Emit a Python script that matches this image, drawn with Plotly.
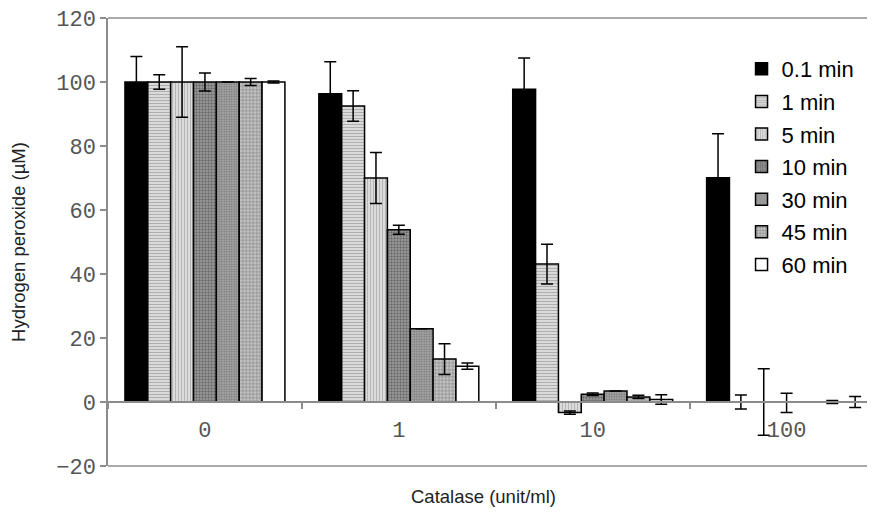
import plotly.graph_objects as go

categories = ["0", "1", "10", "100"]
series_names = ["0.1 min", "1 min", "5 min", "10 min", "30 min", "45 min", "60 min"]

v_01 = [100, 96.3, 97.7, 70.1]
v_1 = [100, 92.5, 43.1, 0]
v_5 = [100, 70.0, -3.3, 0]
v_10 = [100, 53.8, 2.4, -0.3]
v_30 = [100, 22.9, 3.4, 0]
v_45 = [100, 13.4, 1.6, 0]
v_60 = [100, 11.2, 0.8, 0]

e_01 = [8.0, 10.0, 9.8, 13.7]
e_1 = [2.3, 4.8, 6.2, 2.2]
e_5 = [11.0, 8.0, 0.5, 10.4]
e_10 = [2.8, 1.4, 0.4, 3.0]
e_30 = [None, None, None, None]
e_45 = [1.1, 4.8, 0.5, 0.5]
e_60 = [0.3, 1.0, 1.5, 1.7]

values = [v_01, v_1, v_5, v_10, v_30, v_45, v_60]
errors = [e_01, e_1, e_5, e_10, e_30, e_45, e_60]

styles = [
    dict(color="#000000", pattern=dict(shape="")),
    dict(color="#e2e2e2", pattern=dict(shape="-", fgcolor="#7a7a7a", size=3, solidity=0.45)),
    dict(color="#e2e2e2", pattern=dict(shape="|", fgcolor="#8a8a8a", size=3, solidity=0.45)),
    dict(color="#a0a0a0", pattern=dict(shape=".", fgcolor="#353535", size=3, solidity=0.5)),
    dict(color="#b0b0b0", pattern=dict(shape=".", fgcolor="#454545", size=2.5, solidity=0.5)),
    dict(color="#c4c4c4", pattern=dict(shape="+", fgcolor="#454545", size=3.5, solidity=0.35)),
    dict(color="#ffffff", pattern=dict(shape="")),
]

fig = go.Figure()
for name, vals, errs, st in zip(series_names, values, errors, styles):
    lw = [1.5 if abs(v) > 0.5 else 0 for v in vals]
    fig.add_trace(go.Bar(
        name=name, x=categories, y=vals, legendgroup=name,
        marker=dict(color=st["color"], pattern=st["pattern"],
                    line=dict(color="#000000", width=lw)),
        error_y=dict(type="data", array=errs, visible=True,
                     color="#000000", thickness=1.5, width=6),
    ))

axis_gray = "#8c8c8c"
mono = dict(family="Liberation Mono, Courier New, monospace", size=22, color="#555555")

fig.update_layout(
    width=867, height=506,
    margin=dict(l=99.5, r=0, t=10, b=48, autoexpand=False),
    paper_bgcolor="white", plot_bgcolor="white",
    barmode="group", bargap=0.175, bargroupgap=0,
    showlegend=True,
    legend=dict(x=0.826, y=0.933, xanchor="left", yanchor="top",
                tracegroupgap=1,
                font=dict(family="Liberation Sans, Arial, sans-serif", size=22, color="#000000"),
                bgcolor="rgba(0,0,0,0)"),
    xaxis=dict(type="category", range=[-0.5, 3.456],
               anchor="free", position=20 / 140, automargin=False,
               showline=True, linecolor=axis_gray, linewidth=1.5,
               ticks="outside", ticklen=6, tickwidth=1.5, tickcolor=axis_gray,
               tickson="boundaries", tickfont=mono, ticklabelstandoff=8,
               ticklabeloverflow="allow",
               showgrid=False, zeroline=False),
    yaxis=dict(range=[-20, 120], dtick=20, tick0=0, automargin=False,
               showline=True, linecolor=axis_gray, linewidth=1.5,
               ticks="outside", ticklen=6, tickwidth=1.5, tickcolor=axis_gray,
               tickfont=mono, ticklabeloverflow="allow",
               showgrid=False, zeroline=False,
               title=dict(text="Hydrogen peroxide (µM)", standoff=26,
                          font=dict(family="Liberation Sans, Arial, sans-serif", size=18.5, color="#222222"))),
    font=dict(family="Liberation Sans, Arial, sans-serif"),
    shapes=[
        dict(type="line", xref="paper", yref="paper", x0=0, x1=1, y0=1, y1=1,
             line=dict(color=axis_gray, width=1.5)),
        dict(type="line", xref="paper", yref="paper", x0=0, x1=1, y0=0, y1=0,
             line=dict(color=axis_gray, width=1.5)),
    ],
    annotations=[
        dict(text="Catalase (unit/ml)", xref="paper", yref="paper",
             x=0.489, y=-0.069, xanchor="center", yanchor="middle", showarrow=False,
             font=dict(family="Liberation Sans, Arial, sans-serif", size=18.5, color="#222222")),
    ],
)

fig.write_html("out.html")
